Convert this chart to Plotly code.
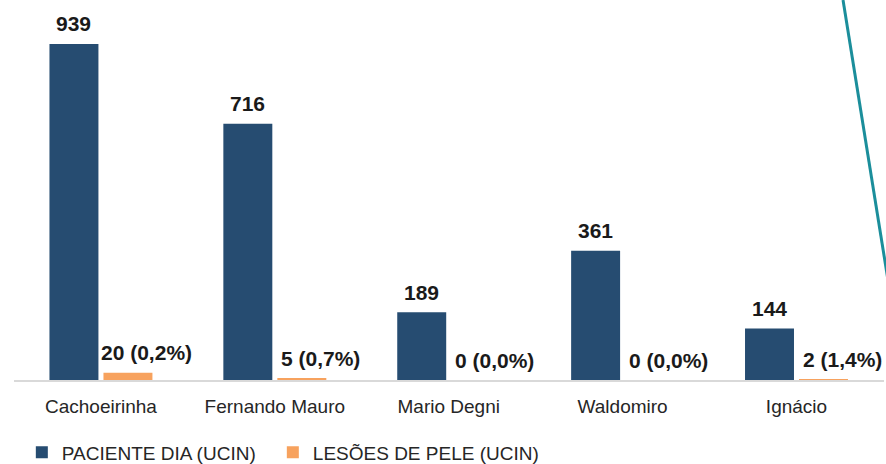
import plotly.graph_objects as go

categories = ["Cachoeirinha", "Fernando Mauro", "Mario Degni", "Waldomiro", "Ignácio"]
paciente_dia = [939, 716, 189, 361, 144]
lesoes_pele = [20, 5, 0, 0, 2]
lesoes_pct = ["0,2%", "0,7%", "0,0%", "0,0%", "1,4%"]

BLUE = "#264c71"
ORANGE = "#f7a25e"

fig = go.Figure()
fig.add_trace(go.Bar(name="PACIENTE DIA (UCIN)", x=categories, y=paciente_dia,
                     marker=dict(color=BLUE, line=dict(width=0)), legend="legend"))
fig.add_trace(go.Bar(name="LESÕES DE PELE (UCIN)", x=categories, y=lesoes_pele,
                     marker=dict(color=ORANGE, line=dict(width=0)), legend="legend2"))

label_font = dict(family="Liberation Sans, Arial", size=21, color="#1a1a1a")
annotations = []
for c, v in zip(categories, paciente_dia):
    annotations.append(dict(x=c, y=v, xref="x", yref="y", text=f"<b>{v}</b>", showarrow=False,
                            xshift=-27, yshift=20, yanchor="middle", xanchor="center", font=label_font))
for c, v, p in zip(categories, lesoes_pele, lesoes_pct):
    annotations.append(dict(x=c, y=v, xref="x", yref="y", text=f"<b>{v} ({p})</b>", showarrow=False,
                            xshift=46, yshift=20, yanchor="middle", xanchor="center", font=label_font))

legend_font = dict(family="Liberation Sans, Arial", size=19, color="#262626")

fig.update_layout(
    width=886, height=480,
    margin=dict(l=14, r=2, t=10, b=100),
    paper_bgcolor="white", plot_bgcolor="white",
    barmode="group", bargap=0.379, bargroupgap=0.093,
    showlegend=True,
    legend=dict(orientation="h", x=0.009, y=-0.1446, xanchor="left", yanchor="top", font=legend_font),
    legend2=dict(orientation="h", x=0.2975, y=-0.1446, xanchor="left", yanchor="top", font=legend_font),
    annotations=annotations,
    shapes=[dict(type="line", xref="paper", yref="paper", x0=0.9529, y0=1.027, x1=1.023, y1=0.0,
                 line=dict(color="#1b8e9b", width=3))],
)
fig.update_xaxes(showline=True, linecolor="#d9d9d9", linewidth=1.5, ticks="outside", ticklen=8,
                 tickcolor="rgba(0,0,0,0)",
                 tickfont=dict(family="Liberation Sans, Arial", size=19, color="#262626"))
fig.update_yaxes(range=[0, 1034], visible=False, showgrid=False)

fig.write_html("out.html", config={"displayModeBar": False},
               post_script="document.body.style.margin='0';document.body.style.overflow='hidden';")
